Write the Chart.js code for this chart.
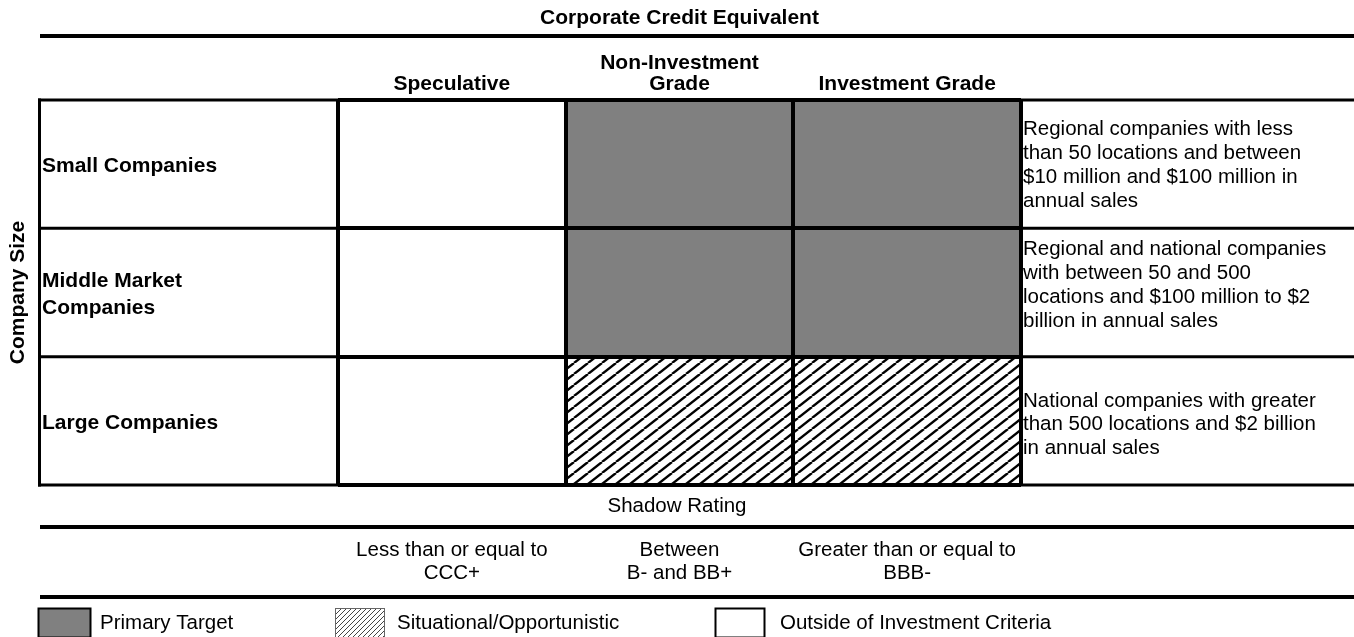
<!DOCTYPE html>
<html><head><meta charset="utf-8">
<style>html,body{margin:0;padding:0;background:#fff;overflow:hidden}</style>
<script src="https://cdn.jsdelivr.net/npm/chart.js@4.4.1/dist/chart.umd.min.js"></script>
</head><body>
<canvas id="c" width="1354" height="637" style="width:1354px;height:637px;display:block"></canvas>
<script>
// ---- data ----
const chartTitle = 'Corporate Credit Equivalent';
const axisTitle = 'Company Size';
const gradeLabels = ['Speculative', ['Non-Investment', 'Grade'], 'Investment Grade'];
const sizeLabels = [['Small Companies'], ['Middle Market', 'Companies'], ['Large Companies']];
const sizeDescriptions = [
  ['Regional companies with less', 'than 50 locations and between', '$10 million and $100 million in', 'annual sales'],
  ['Regional and national companies', 'with between 50 and 500', 'locations and $100 million to $2', 'billion in annual sales'],
  ['National companies with greater', 'than 500 locations and $2 billion', 'in annual sales']
];
const shadowTitle = 'Shadow Rating';
const shadowRatings = [['Less than or equal to', 'CCC+'], ['Between', 'B- and BB+'], ['Greater than or equal to', 'BBB-']];
const legendLabels = ['Primary Target', 'Situational/Opportunistic', 'Outside of Investment Criteria'];
// category index (into legendLabels) of each cell: rows = company size, columns = grade
const cellCategory = [
  [2, 0, 0],
  [2, 0, 0],
  [2, 1, 1]
];
const rowUnits = [1, 1, 1];

// ---- styles ----
const FAM = '"Liberation Sans", Arial, Helvetica, sans-serif';
const FS = 21;      // bold headings
const FN = 20.5;    // normal text
function makeHatch(w, h, lw, color) {
  const c = document.createElement('canvas');
  c.width = w; c.height = h;
  const g = c.getContext('2d');
  g.fillStyle = '#fff'; g.fillRect(0, 0, w, h);
  g.strokeStyle = color; g.lineWidth = lw;
  for (let k = -1; k <= 1; k++) {
    g.beginPath(); g.moveTo(k * w, h); g.lineTo(k * w + w, 0); g.stroke();
  }
  return g.createPattern(c, 'repeat');
}
const cellHatch = makeHatch(14, 11, 2.4, '#000');
const legendHatch = makeHatch(5, 5, 1, '#444');
const cellFills = ['#808080', cellHatch, '#ffffff'];
const legendFills = ['#808080', legendHatch, '#ffffff'];

const datasets = sizeLabels.map((lab, r) => ({
  label: lab.join(' '),
  data: gradeLabels.map(() => rowUnits[r]),
  backgroundColor: cellCategory[r].map(k => cellFills[k]),
  borderWidth: 0
}));

const tablePlugin = {
  id: 'tableDecor',
  afterDraw(chart) {
    const {ctx, chartArea: a, scales: {x, y}} = chart;
    const W = chart.width;
    const L = 40;
    const bounds = [0];
    rowUnits.forEach((u, i) => bounds.push(bounds[i] + u));
    const by = bounds.map(v => y.getPixelForValue(v));
    ctx.save();
    ctx.strokeStyle = '#000';
    // top rule under the title
    ctx.lineWidth = 4;
    ctx.beginPath(); ctx.moveTo(L, 36); ctx.lineTo(W, 36); ctx.stroke();
    // label column and description column rules
    ctx.lineWidth = 3;
    ctx.beginPath(); ctx.moveTo(L - 0.5, by[0] - 1.5); ctx.lineTo(L - 0.5, by[by.length - 1] + 1.5); ctx.stroke();
    by.forEach(py => {
      ctx.beginPath(); ctx.moveTo(L - 2, py); ctx.lineTo(a.left, py); ctx.stroke();
      ctx.beginPath(); ctx.moveTo(a.right, py); ctx.lineTo(W, py); ctx.stroke();
    });
    // row labels
    ctx.fillStyle = '#000';
    ctx.textBaseline = 'middle';
    ctx.textAlign = 'left';
    ctx.font = 'bold ' + FS + 'px ' + FAM;
    sizeLabels.forEach((lines, r) => {
      const cy = y.getPixelForValue(bounds[r] + rowUnits[r] / 2) + 2;
      const lh = 27;
      lines.forEach((t, i) => ctx.fillText(t, L + 2, cy - (lines.length - 1) * lh / 2 + i * lh));
    });
    // descriptions
    ctx.font = FN + 'px ' + FAM;
    const descShift = [1, -7, 4];
    sizeDescriptions.forEach((lines, r) => {
      const cy = y.getPixelForValue(bounds[r] + rowUnits[r] / 2) + descShift[r];
      const lh = 23.8;
      lines.forEach((t, i) => ctx.fillText(t, a.right + 2, cy - (lines.length - 1) * lh / 2 + i * lh));
    });
    // shadow rating block
    ctx.textAlign = 'center';
    ctx.fillText(shadowTitle, W / 2, 506);
    ctx.lineWidth = 4;
    ctx.beginPath(); ctx.moveTo(L, 527); ctx.lineTo(W, 527); ctx.stroke();
    shadowRatings.forEach((lines, i) => {
      const cx = x.getPixelForValue(i);
      lines.forEach((t, j) => ctx.fillText(t, cx, 550 + j * 23.5));
    });
    ctx.beginPath(); ctx.moveTo(L, 597); ctx.lineTo(W, 597); ctx.stroke();
    // legend
    const boxX = [38, 335, 715], boxW = [53, 50, 50], textX = [100, 397, 780];
    ctx.textAlign = 'left';
    legendLabels.forEach((t, i) => {
      ctx.fillStyle = legendFills[i];
      ctx.fillRect(boxX[i], 608, boxW[i], 30);
      ctx.lineWidth = i === 1 ? 1 : 2;
      ctx.strokeStyle = i === 1 ? '#666' : '#000';
      ctx.strokeRect(boxX[i] + 0.5, 608.5, boxW[i] - 1, 29);
      ctx.fillStyle = '#000';
      ctx.fillText(t, textX[i], 623);
    });
    ctx.restore();
  }
};

new Chart(document.getElementById('c'), {
  type: 'bar',
  data: {labels: gradeLabels, datasets},
  options: {
    responsive: false,
    animation: false,
    layout: {padding: {top: 0, left: 0, right: 333, bottom: 152}},
    plugins: {legend: {display: false}, tooltip: {enabled: false}},
    datasets: {bar: {categoryPercentage: 1, barPercentage: 1}},
    scales: {
      x: {
        type: 'category', position: 'top', stacked: true, offset: true,
        grid: {display: true, offset: true, color: '#000', lineWidth: 4, drawTicks: false, z: 1},
        border: {display: false},
        ticks: {color: '#000', font: {family: FAM, size: FS, weight: 'bold', lineHeight: 1.0}, padding: 5, maxRotation: 0, autoSkip: false},
        title: {display: true, text: chartTitle, color: '#000', font: {family: FAM, size: FS, weight: 'bold', lineHeight: 1.2}, padding: {top: 6, bottom: 0}},
        afterFit(s) { s.height = 100; }
      },
      y: {
        type: 'linear', position: 'left', stacked: true, reverse: true,
        min: 0, max: rowUnits.reduce((p, q) => p + q, 0),
        grid: {color: '#000', lineWidth: 4, drawTicks: false, z: 1},
        border: {display: false},
        ticks: {display: false, stepSize: 1},
        title: {display: true, text: axisTitle, color: '#000', font: {family: FAM, size: FS, weight: 'bold', lineHeight: 1.2}, padding: {top: 6, bottom: 0}},
        afterFit(s) { s.width = 338; }
      }
    }
  },
  plugins: [tablePlugin]
});
</script>
</body></html>
